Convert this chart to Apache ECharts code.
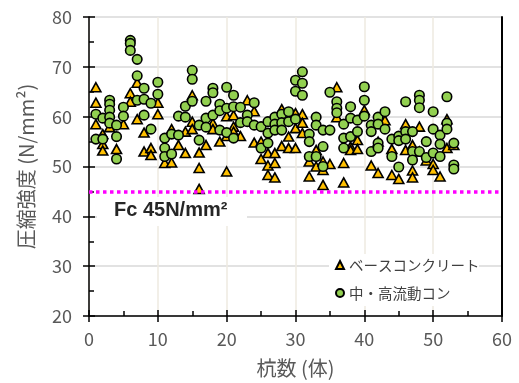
<!DOCTYPE html>
<html>
<head>
<meta charset="utf-8">
<script src="https://cdn.jsdelivr.net/npm/echarts@6/dist/echarts.min.js"></script>
<style>
html,body{margin:0;padding:0;background:#fff;}
#chart{width:519px;height:383px;}
</style>
</head>
<body>
<div id="chart"></div>
<script>
// ---- data ----
const pileNumbers = [1,2,3,4,5,6,7,8,9,10,11,12,13,14,15,16,17,18,19,20,21,22,23,24,25,26,27,28,29,30,31,32,33,34,35,36,37,38,39,40,41,42,43,44,45,46,47,48,49,50,51,52,53];

const baseStrength = [
  [65.9,62.8,58.5],[56.5,54.5,53.2],[57.9],[53.5],[58.5],[64.7,63.0],[66.8,59.5],[56.8,53.0],[53.7,52.3],[62.8,60.5],
  [50.7],[57.5,50.8],[54.3],[57.0,52.7],[64.3,59.0,57.5],[52.8,49.7,45.5],[54.3],[58.7,57.5],[55.0],[60.1,56.1,49.0],
  [60.3,58.0,57.0],[56.1],[63.3],[61.1,54.8],[55.0,51.5],[52.7,50.2,48.3],[52.7,50.7,47.8],[61.5,54.1],[56.0,53.7],[60.7,57.7,53.7],
  [60.5,58.8,56.7],[51.0,48.0],[53.3,50.0],[51.0,49.3,46.3],[50.5],[65.9,59.9],[50.7,46.8],[54.0,53.3],[55.3,53.5],[61.3],
  [50.2],[55.0,48.7],[59.3],[53.5,48.3],[47.5],[58.5,53.3],[54.3,49.2,47.8],[58.0,53.0],[51.2],[50.5,49.3],
  [48.0],[59.5,53.7],[54.3]
];

const flowStrength = [
  [60.5,55.5],[59.7,55.5],[63.3,62.5,61.3,59.9,58.7],[58.3,56.0,51.5],[61.9,60.1],[75.3,74.7,73.3],[71.5,68.2,63.3],[65.7,63.5,60.3],[62.7,57.5],[66.9,64.5],
  [55.7,53.7,52.0],[56.5,52.5],[60.1,56.3],[62.1,59.9],[69.3,67.5,63.1],[58.3,55.3],[63.1,59.7,57.9],[65.7,64.8,60.3],[62.5,61.2,57.3],[65.9,61.7,56.8],
  [64.3,62.0,55.7],[61.9,58.8],[60.3,59.0],[62.8,58.3],[58.0,53.7],[59.0,56.7,54.7],[59.9,58.5,57.3],[60.5,58.8,57.3],[61.0,59.0],[67.3,65.1,59.5],
  [69.0,66.7,64.3],[56.5,55.0,52.0],[59.9,58.3,52.0],[57.3,54.0,50.0],[64.9,57.3],[63.0,61.7,60.8],[58.5,55.7,53.7],[62.0,59.7,56.0],[59.3,57.0],[66.0,63.3,60.1],
  [58.3,57.0,53.0],[59.9,58.5,54.7,53.7],[61.0,57.5],[55.5,52.0],[56.1,55.2,49.9],[63.0,57.0,55.5],[57.0,53.0,51.3],[64.3,63.3,61.8,53.0],[55.0,51.8],[61.0,57.5,52.7],
  [56.3,54.5,52.0],[64.0,58.7,57.5],[54.7,50.3,49.5]
];

const seriesNames = ['ベースコンクリート', '中・高流動コン'];
const designStrength = 45;
const designLabel = 'Fc 45N/mm²';
const xTitle = '杭数 (体)';
const yTitle = '圧縮強度 (N/mm²)';
const xRange = [0, 60, 10];
const yRange = [20, 80, 10];

// ---- build point pairs ----
function pairs(values) {
  const out = [];
  pileNumbers.forEach((p, i) => (values[i] || []).forEach(v => out.push([p, v])));
  return out;
}

const chart = echarts.init(document.getElementById('chart'), null, {renderer: 'canvas'});
const FONT = '"Noto Sans CJK JP", "Noto Sans", sans-serif';
const AX = {color: '#000', width: 1.5};

const option = {
  animation: false,
  backgroundColor: '#fff',
  grid: {left: 89, right: 17, top: 17, bottom: 66, containLabel: false},
  xAxis: [
    {
      type: 'value', min: xRange[0], max: xRange[1], interval: xRange[2], position: 'bottom',
      axisLine: {show: true, lineStyle: AX},
      axisTick: {show: true, inside: false, length: 6, lineStyle: AX},
      axisLabel: {margin: 14, color: '#595959', fontSize: 18, fontFamily: FONT},
      splitLine: {show: true, lineStyle: {color: '#eeeae0', width: 1.5}},
      name: xTitle, nameLocation: 'middle', nameGap: 42,
      nameTextStyle: {color: '#595959', fontSize: 20, fontFamily: FONT}
    },
    {
      type: 'value', min: xRange[0], max: xRange[1], interval: xRange[2], position: 'bottom',
      axisLine: {show: false},
      axisTick: {show: true, inside: true, length: 6, lineStyle: AX},
      minorTick: {show: true, splitNumber: 2, length: 5, lineStyle: AX},
      axisLabel: {show: false}, splitLine: {show: false}
    }
  ],
  yAxis: [
    {
      type: 'value', min: yRange[0], max: yRange[1], interval: yRange[2], position: 'left',
      axisLine: {show: true, lineStyle: AX},
      axisTick: {show: true, inside: false, length: 6, lineStyle: AX},
      axisLabel: {margin: 17, color: '#595959', fontSize: 18, fontFamily: FONT},
      splitLine: {show: true, lineStyle: {color: '#d9d9d9', width: 1.5}},
      name: yTitle, nameLocation: 'middle', nameGap: 53, nameRotate: 90,
      nameTextStyle: {color: '#595959', fontSize: 20, fontFamily: FONT}
    },
    {
      type: 'value', min: yRange[0], max: yRange[1], interval: yRange[2], position: 'left',
      axisLine: {show: false},
      axisTick: {show: true, inside: true, length: 6, lineStyle: AX},
      minorTick: {show: true, splitNumber: 2, length: 5, lineStyle: AX},
      axisLabel: {show: false}, splitLine: {show: false}
    },
    {
      type: 'value', min: yRange[0], max: yRange[1], interval: yRange[2], position: 'right',
      axisLine: {show: true, lineStyle: {color: '#000', width: 2}},
      axisTick: {show: false}, axisLabel: {show: false}, splitLine: {show: false}
    }
  ],
  legend: {
    orient: 'vertical', left: 335, top: 256, padding: 0, itemGap: 10,
    itemWidth: 8, itemHeight: 8,
    textStyle: {color: '#404040', fontSize: 14.5, fontFamily: FONT, lineHeight: 18},
    data: [
      {name: seriesNames[0], icon: 'triangle'},
      {name: seriesNames[1], icon: 'circle'}
    ]
  },
  graphic: [
    {type: 'rect', left: 329, top: 254, z: 1, silent: true,
     shape: {width: 150, height: 52}, style: {fill: '#fff'}},
    {type: 'rect', left: 97, top: 197, z: 1, silent: true,
     shape: {width: 150, height: 29}, style: {fill: '#fff'}},
    {type: 'text', left: 114, top: 200, z: 5, silent: true,
     style: {text: designLabel, fill: '#262626', font: 'bold 20px "Liberation Sans", Arial, sans-serif'}}
  ],
  series: [
    {
      name: seriesNames[0], type: 'scatter', xAxisIndex: 0, yAxisIndex: 0,
      symbol: 'triangle', symbolSize: [10, 9],
      itemStyle: {color: '#ffc000', borderColor: '#000', borderWidth: 1.6, opacity: 1},
      data: pairs(baseStrength),
      markLine: {
        silent: true, symbol: ['none', 'none'], label: {show: false},
        lineStyle: {color: '#ff00ff', width: 3.5, type: [3.5, 3.5]},
        data: [{yAxis: designStrength}]
      }
    },
    {
      name: seriesNames[1], type: 'scatter', xAxisIndex: 0, yAxisIndex: 0,
      symbol: 'circle', symbolSize: 9.5,
      itemStyle: {color: '#92d050', borderColor: '#000', borderWidth: 1.6, opacity: 1},
      data: pairs(flowStrength)
    }
  ]
};
chart.setOption(option);
</script>
</body>
</html>
